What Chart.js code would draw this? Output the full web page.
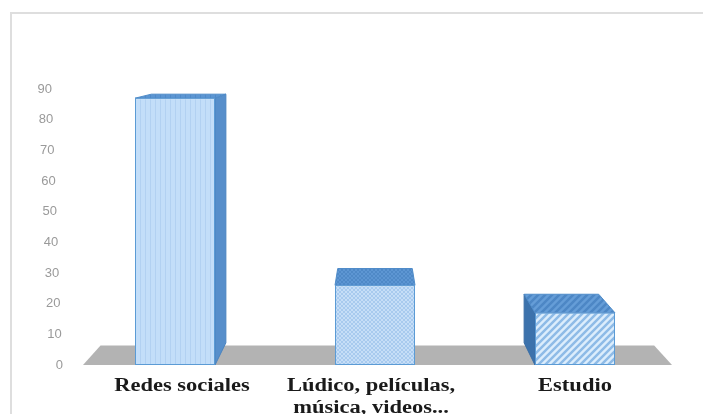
<!DOCTYPE html>
<html>
<head>
<meta charset="utf-8">
<script src="https://cdn.jsdelivr.net/npm/chart.js@4"></script>
<style>
  html, body { margin: 0; padding: 0; background: #ffffff; }
  #myChart { display: block; }
</style>
</head>
<body>
<canvas id="myChart" width="703" height="414"></canvas>
<script>
// setup
const categories = ['Redes sociales', ['Lúdico, películas,', 'música, videos...'], 'Estudio'];
const values = [87, 26, 17];
const tickMax = 90;
const tickStep = 10;

// small repeating tiles used as bar fills
function makePattern(size, bg, drawLines) {
  const c = document.createElement('canvas');
  c.width = size;
  c.height = size;
  const g = c.getContext('2d');
  g.fillStyle = bg;
  g.fillRect(0, 0, size, size);
  drawLines(g, size);
  return c.getContext('2d').createPattern(c, 'repeat');
}

const verticalLines = (color) => (g, s) => {
  g.fillStyle = color;
  g.fillRect(0, 0, 1, s);
};
const crossHatch = (color) => (g, s) => {
  g.fillStyle = color;
  for (let i = 0; i < s; i++) {
    g.fillRect(i, i, 1, 1);
    g.fillRect(s - 1 - i, i, 1, 1);
  }
};
const diagonal = (color) => (g, s) => {
  g.strokeStyle = color;
  g.lineWidth = 2.5;
  g.beginPath();
  g.moveTo(-2, s + 2); g.lineTo(s + 2, -2);
  g.moveTo(-2, 2); g.lineTo(2, -2);
  g.moveTo(s - 2, s + 2); g.lineTo(s + 2, s - 2);
  g.stroke();
};

const frontFills = [
  makePattern(5, '#c3def9', verticalLines('#b2d1f2')),
  makePattern(4, '#c6def7', crossHatch('#a8caee')),
  makePattern(7, '#dcedfc', diagonal('#8ebbe7'))
];
const topFills = [
  makePattern(5, '#5b95d2', verticalLines('#5089c8')),
  makePattern(4, '#5d96d3', crossHatch('#4f89c7')),
  makePattern(7, '#659dd7', diagonal('#4d87c5'))
];
const sideFills = ['#578fcb', '#4f86c2', '#3c72ac'];

const DEPTH = 0.068;       // how far back faces shrink toward the vanishing point
const FLOOR_DEPTH = 0.06;

const data = {
  labels: categories,
  datasets: [{
    label: 'Uso',
    data: values,
    backgroundColor: frontFills,
    borderColor: '#5b9bd5',
    borderWidth: 1,
    borderSkipped: false,
    barPercentage: 0.4,
    categoryPercentage: 1
  }]
};

const back = (p, vp, k) => ({ x: p.x + (vp.x - p.x) * k, y: p.y + (vp.y - p.y) * k });

function poly(ctx, pts, fill, stroke) {
  ctx.beginPath();
  ctx.moveTo(pts[0].x, pts[0].y);
  for (let i = 1; i < pts.length; i++) ctx.lineTo(pts[i].x, pts[i].y);
  ctx.closePath();
  ctx.fillStyle = fill;
  ctx.fill();
  if (stroke) {
    ctx.strokeStyle = stroke;
    ctx.lineWidth = 1;
    ctx.stroke();
  }
}

const columns3d = {
  id: 'columns3d',
  beforeDraw(chart) {
    const { ctx, width, height } = chart;
    ctx.save();
    ctx.fillStyle = '#ffffff';
    ctx.fillRect(0, 0, width, height);
    // outer frame
    ctx.strokeStyle = '#dedede';
    ctx.lineWidth = 2;
    ctx.strokeRect(11, 13, width + 20, height + 20);
    ctx.restore();
  },
  beforeDatasetsDraw(chart) {
    const { ctx, chartArea: { top, left, right }, scales: { x, y } } = chart;
    const vp = { x: (left + right) / 2, y: top - 50 };
    const base = y.getPixelForValue(0);
    ctx.save();

    // floor
    const fl = { x: left + 8, y: base };
    const fr = { x: right - 3, y: base };
    poly(ctx, [fl, fr, back(fr, vp, FLOOR_DEPTH), back(fl, vp, FLOOR_DEPTH)], '#b3b3b3');

    // value axis labels, leaning back with the wall
    ctx.font = '13px "Liberation Sans", sans-serif';
    ctx.fillStyle = '#9a9a9a';
    ctx.textAlign = 'right';
    ctx.textBaseline = 'middle';
    y.ticks.forEach(t => {
      const py = y.getPixelForValue(t.value);
      ctx.fillText(String(t.value), 63 - (t.value / tickMax) * 11, py);
    });

    // top and side faces of each column
    chart.getDatasetMeta(0).data.forEach((bar, i) => {
      const l = bar.x - bar.width / 2;
      const r = bar.x + bar.width / 2;
      const tl = { x: l, y: bar.y }, tr = { x: r, y: bar.y };
      const bl = { x: l, y: bar.base }, br = { x: r, y: bar.base };
      if (r < vp.x) {
        poly(ctx, [tr, back(tr, vp, DEPTH), back(br, vp, DEPTH), br], sideFills[i], '#4a84c0');
      }
      if (l > vp.x) {
        poly(ctx, [tl, back(tl, vp, DEPTH), back(bl, vp, DEPTH), bl], sideFills[i], '#3a6ea6');
      }
      if (bar.y > vp.y) {
        poly(ctx, [tl, tr, back(tr, vp, DEPTH), back(tl, vp, DEPTH)], topFills[i], '#4f8cc9');
      }
    });
    ctx.restore();
  },
  afterDraw(chart) {
    const { ctx, scales: { x, y } } = chart;
    const base = y.getPixelForValue(0);
    ctx.save();
    ctx.font = 'bold 18px "Liberation Serif", serif';
    ctx.fillStyle = '#1a1a1a';
    ctx.textAlign = 'center';
    ctx.textBaseline = 'alphabetic';
    categories.forEach((label, i) => {
      const lines = Array.isArray(label) ? label : [label];
      const cx = x.getPixelForTick(i) + (i === 0 ? 7 : i === 1 ? -4 : 0);
      lines.forEach((line, j) => {
        ctx.save();
        ctx.translate(cx, base + 26 + j * 22);
        ctx.scale(1.25, 1);
        ctx.fillText(line, 0, 0);
        ctx.restore();
      });
    });
    ctx.restore();
  }
};

// config
const config = {
  type: 'bar',
  data,
  options: {
    responsive: false,
    animation: false,
    layout: {
      padding: { left: 75, right: 28, top: 89, bottom: 49 }
    },
    plugins: {
      legend: { display: false },
      tooltip: { enabled: false }
    },
    scales: {
      x: {
        display: false,
        grid: { display: false }
      },
      y: {
        display: false,
        min: 0,
        max: tickMax,
        ticks: { stepSize: tickStep },
        grid: { display: false }
      }
    }
  },
  plugins: [columns3d]
};

// render init block
const myChart = new Chart(
  document.getElementById('myChart'),
  config
);
</script>
</body>
</html>
